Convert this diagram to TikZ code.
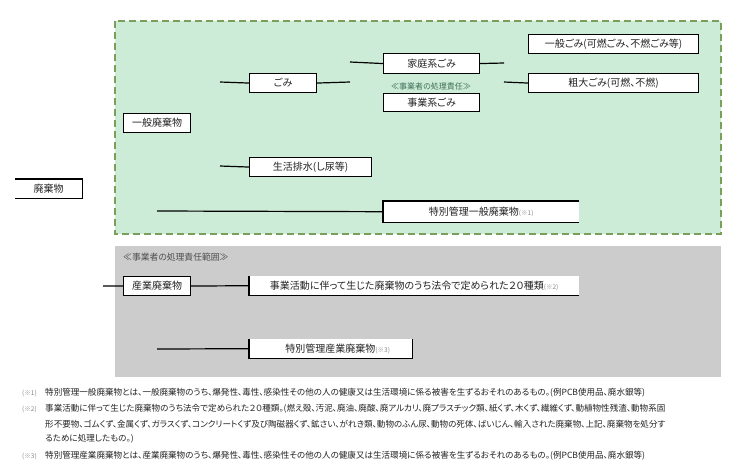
\documentclass[tikz,border=0pt]{standalone}
\usepackage{fontspec}
\setmainfont{Noto Sans CJK JP}[RawFeature=+palt]
\newfontfamily\jpf{Noto Sans CJK JP}[RawFeature=+palt]
\definecolor{greenfill}{HTML}{CCECD8}
\definecolor{greendash}{HTML}{78A05A}
\definecolor{graybg}{HTML}{CCCCCC}
\definecolor{txt}{HTML}{222222}
\definecolor{notegray}{HTML}{888888}
\definecolor{resp}{HTML}{3F6F55}
\tikzset{
  bx/.style={fill=white, inner sep=0pt, anchor=north west, text=txt, font=\jpf\fontsize{10}{12}\selectfont},
  fullbx/.style={bx, draw=black, line width=1.1pt},
  conn/.style={draw=black, line width=1.2pt},
  edge/.style={draw=black, line width=1.1pt},
  fn/.style={anchor=west, inner sep=0pt, text=txt, font=\jpf\fontsize{8.55}{9}\selectfont},
  fnmark/.style={anchor=west, inner sep=0pt, text=notegray, font=\jpf\fontsize{6.5}{7}\selectfont}
}
\begin{document}
\begin{tikzpicture}[x=1pt,y=-1pt]
\useasboundingbox (0,0) rectangle (739,472);
\fill[white] (0,0) rectangle (739,472);
% background areas
\draw[fill=greenfill, draw=greendash, line width=1.8pt, dash pattern=on 7pt off 4pt] (115,21) rectangle (721,234);
\fill[graybg] (115,246) rectangle (721,377);

% nodes
\node[bx, minimum width=67pt, minimum height=19pt] (haiki) at (15,179) {廃棄物};
\node[fullbx, minimum width=67pt, minimum height=19pt] (ippan) at (123,113) {一般廃棄物};
\node[fullbx, minimum width=67pt, minimum height=19pt] (gomi) at (249,73) {ごみ};
\node[fullbx, minimum width=96pt, minimum height=20pt] (katei) at (383,53) {家庭系ごみ};
\node[inner sep=0pt, text=resp, font=\jpf\fontsize{8}{9}\selectfont] (resp1) at (431,86) {≪事業者の処理責任≫};
\node[fullbx, minimum width=96pt, minimum height=18pt] (jigyo) at (383,93) {事業系ごみ};
\node[fullbx, minimum width=170pt, minimum height=19pt] (ippangomi) at (528,34) {一般ごみ(可燃ごみ、不燃ごみ等)};
\node[fullbx, minimum width=170pt, minimum height=19pt] (sodai) at (528,73) {粗大ごみ(可燃、不燃)};
\node[fullbx, minimum width=122pt, minimum height=19pt] (seikatsu) at (249,157) {生活排水(し尿等)};
\node[bx, minimum width=196pt, minimum height=21pt] (toku1) at (383,201) {特別管理一般廃棄物{\color{notegray}\fontsize{6.5}{7}\selectfont (※1)}};
\node[anchor=west, inner sep=0pt, text=txt!80, font=\jpf\fontsize{8.8}{10}\selectfont] (resp2) at (123,257) {≪事業者の処理責任範囲≫};
\node[fullbx, minimum width=67pt, minimum height=19pt] (sangyo) at (123,276) {産業廃棄物};
\node[bx, minimum width=330pt, minimum height=19pt] (nijyu) at (249,276) {事業活動に伴って生じた廃棄物のうち法令で定められた２０種類{\color{notegray}\fontsize{6.5}{7}\selectfont (※2)}};
\node[bx, minimum width=163pt, minimum height=19pt] (tokusan) at (249,339) {\hspace{14pt}特別管理産業廃棄物{\color{notegray}\fontsize{6.5}{7}\selectfont (※3)}};

% partial borders
\draw[edge] (haiki.north west) -- (haiki.north east) -- (haiki.south east) -- (haiki.south west);
\draw[edge] (toku1.north east) -- (toku1.north west) -- (toku1.south west) -- (toku1.south east);
\draw[edge] (nijyu.north west) -- (nijyu.south west) -- (nijyu.south east);
\draw[edge] (tokusan.north west) -- (tokusan.south west) -- (tokusan.south east) -- (tokusan.north east);

% connector ends
\coordinate (g1) at (220,82);
\coordinate (g2) at (350,82);
\coordinate (k1) at (350,62);
\coordinate (k2) at (504,63);
\coordinate (s1) at (504,82);
\coordinate (h1) at (220,166);
\coordinate (t1) at (157,211);
\coordinate (p1) at (103,286);
\coordinate (q1) at (157,349);

\draw[conn] (g1) -- (gomi.west);
\draw[conn] (gomi.east) -- (g2);
\draw[conn] (k1) -- (katei.west);
\draw[conn] (katei.east) -- (k2);
\draw[conn] (s1) -- (sodai.west);
\draw[conn] (h1) -- (seikatsu.west);
\draw[conn] (t1) -- (toku1.west);
\draw[conn] (p1) -- (sangyo.west);
\draw[conn] (sangyo.east) -- (nijyu.west);
\draw[conn] (q1) -- (tokusan.west);

% footnotes
\node[fnmark] (m1) at (22,393) {(※1)};
\node[fn] (f1) at (45,393) {特別管理一般廃棄物とは、一般廃棄物のうち、爆発性、毒性、感染性その他の人の健康又は生活環境に係る被害を生ずるおそれのあるもの。(例PCB使用品、廃水銀等)};
\node[fnmark] (m2) at (22,409) {(※2)};
\node[fn] (f2) at (45,409) {事業活動に伴って生じた廃棄物のうち法令で定められた２０種類。(燃え殻、汚泥、廃油、廃酸、廃アルカリ、廃プラスチック類、紙くず、木くず、繊維くず、動植物性残渣、動物系固};
\node[fn] (f3) at (45,424) {形不要物、ゴムくず、金属くず、ガラスくず、コンクリートくず及び陶磁器くず、鉱さい、がれき類、動物のふん尿、動物の死体、ばいじん、輸入された廃棄物、上記、廃棄物を処分す};
\node[fn] (f4) at (45,439) {るために処理したもの。)};
\node[fnmark] (m3) at (22,456) {(※3)};
\node[fn] (f5) at (45,456) {特別管理産業廃棄物とは、産業廃棄物のうち、爆発性、毒性、感染性その他の人の健康又は生活環境に係る被害を生ずるおそれのあるもの。(例PCB使用品、廃水銀等)};
\end{tikzpicture}
\end{document}
